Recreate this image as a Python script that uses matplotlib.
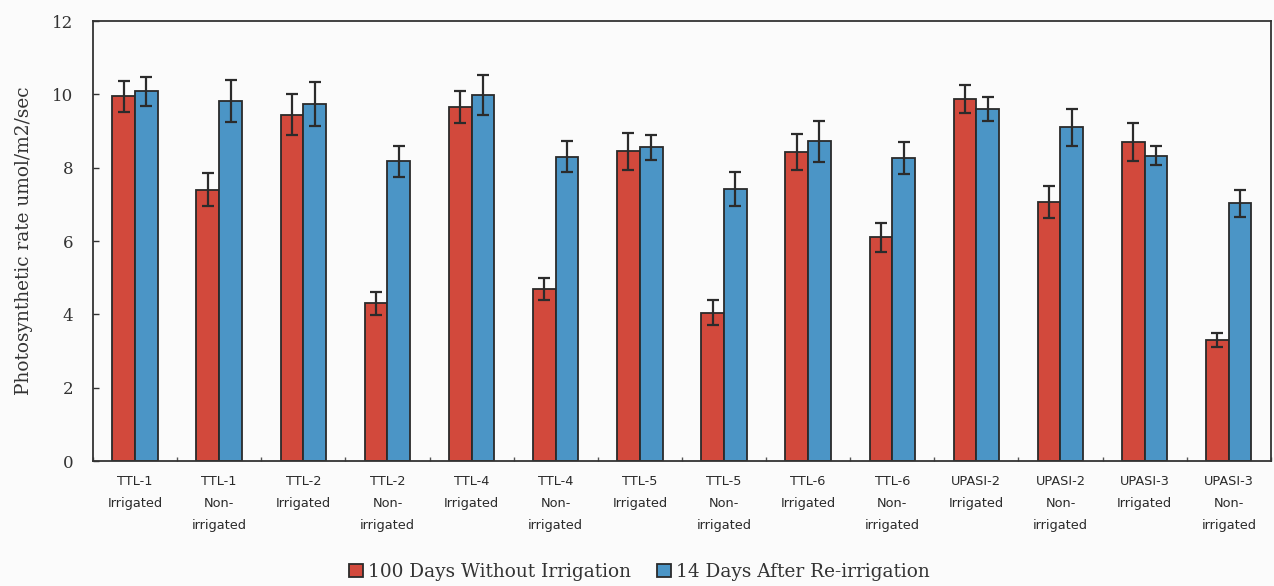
import numpy as np
import matplotlib
matplotlib.use("Agg")
import matplotlib.pyplot as plt

categories = [
    "TTL-1\nIrrigated", "TTL-1\nNon-\nirrigated",
    "TTL-2\nIrrigated", "TTL-2\nNon-\nirrigated",
    "TTL-4\nIrrigated", "TTL-4\nNon-\nirrigated",
    "TTL-5\nIrrigated", "TTL-5\nNon-\nirrigated",
    "TTL-6\nIrrigated", "TTL-6\nNon-\nirrigated",
    "UPASI-2\nIrrigated", "UPASI-2\nNon-\nirrigated",
    "UPASI-3\nIrrigated", "UPASI-3\nNon-\nirrigated",
]

without_irrigation = [9.95, 7.4, 9.45, 4.3, 9.65, 4.68, 8.45, 4.05, 8.43, 6.1, 9.87, 7.06, 8.7, 3.3]
without_err = [0.42, 0.45, 0.55, 0.32, 0.43, 0.3, 0.5, 0.33, 0.5, 0.4, 0.38, 0.43, 0.52, 0.19]

after_reirrigation = [10.08, 9.82, 9.74, 8.18, 9.98, 8.3, 8.56, 7.42, 8.72, 8.26, 9.6, 9.1, 8.33, 7.03]
after_err = [0.4, 0.57, 0.6, 0.42, 0.55, 0.43, 0.34, 0.46, 0.56, 0.44, 0.33, 0.5, 0.26, 0.37]

series_names = ["100 Days Without Irrigation", "14 Days After Re-irrigation"]
y_ticks = [0, 2, 4, 6, 8, 10, 12]

red = "#d2493c"
blue = "#4b95c6"
edge = "#2a2a2a"
text_color = "#333333"

fig = plt.figure(figsize=(12.74, 5.86), dpi=100, facecolor="#fbfbfb")
ax = fig.add_axes([0.073, 0.2133, 0.9245, 0.7507])
ax.set_facecolor("#fbfbfb")

x = np.arange(len(categories))
w = 0.27
err_kw = dict(ecolor="#2b2b2b", elinewidth=1.6, capsize=4.5, capthick=1.6)
b1 = ax.bar(x - w / 2, without_irrigation, w, yerr=without_err, color=red,
            edgecolor=edge, linewidth=1.3, error_kw=err_kw, label=series_names[0])
b2 = ax.bar(x + w / 2, after_reirrigation, w, yerr=after_err, color=blue,
            edgecolor=edge, linewidth=1.3, error_kw=err_kw, label=series_names[1])

ax.set_xlim(-0.5, len(categories) - 0.5)
ax.set_ylim(0, 12)
ax.set_yticks(y_ticks)
ax.set_yticklabels([str(t) for t in y_ticks], family="DejaVu Serif", fontsize=12, color=text_color)
ax.tick_params(axis="y", direction="in", length=4, width=1, pad=14, color=text_color)

ax.set_xticks(x)
ax.set_xticklabels(categories, family="DejaVu Sans", fontsize=9.3, color="#2a2a2a",
                   linespacing=1.9)
ax.tick_params(axis="x", which="major", length=0, pad=10)
ax.set_xticks(np.arange(len(categories) + 1) - 0.5, minor=True)
ax.tick_params(axis="x", which="minor", direction="in", length=3, width=1, color="#555555")

for s in ax.spines.values():
    s.set_color(text_color)
    s.set_linewidth(1.3)

ax.set_ylabel("Photosynthetic rate umol/m2/sec", family="DejaVu Serif", fontsize=13.3,
              color=text_color, labelpad=14)

leg = fig.legend(handles=[b1, b2], labels=series_names, loc="lower center",
                 bbox_to_anchor=(0.502, -0.02), ncol=2, frameon=False,
                 prop={"family": "DejaVu Serif", "size": 13.3},
                 handlelength=0.75, handleheight=0.75, handletextpad=0.3, columnspacing=1.4)
for t in leg.get_texts():
    t.set_color(text_color)

fig.savefig("out.png", dpi=100, facecolor=fig.get_facecolor())
